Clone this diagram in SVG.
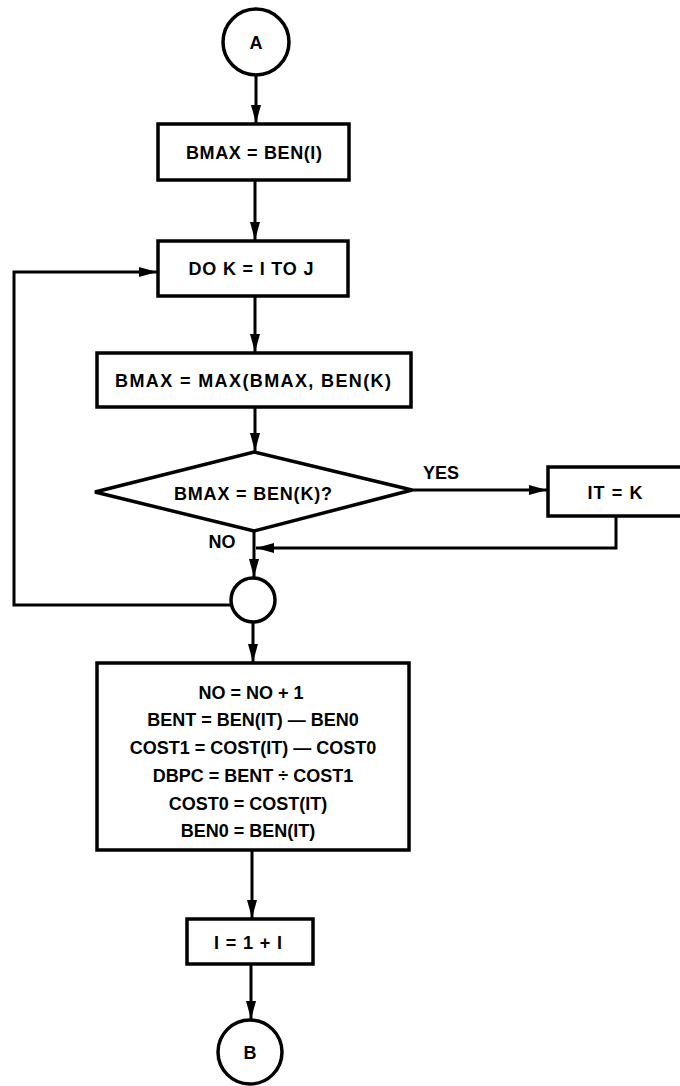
<svg xmlns="http://www.w3.org/2000/svg" width="680" height="1086" viewBox="0 0 680 1086">
<style>
.s{fill:#fff;stroke:#000;stroke-width:3.5}
.c{fill:none;stroke:#000;stroke-width:3}
.t{font-family:"Liberation Sans",Arial,sans-serif;font-weight:bold;font-size:18px;fill:#000;text-anchor:middle}
</style>
<defs>
<marker id="ah" markerUnits="userSpaceOnUse" markerWidth="20" markerHeight="12" refX="18" refY="5" orient="auto">
<path d="M0,0 L18,5 L0,10 z" fill="#000"/>
</marker>
</defs>
<rect width="680" height="1086" fill="#fff"/>
<g id="connectors">
<line class="c" x1="256" y1="75" x2="256" y2="123" marker-end="url(#ah)"/>
<line class="c" x1="255" y1="180" x2="255" y2="240" marker-end="url(#ah)"/>
<line class="c" x1="255" y1="296" x2="255" y2="352" marker-end="url(#ah)"/>
<line class="c" x1="255" y1="407" x2="255" y2="451" marker-end="url(#ah)"/>
<line class="c" x1="412" y1="490" x2="547" y2="490" marker-end="url(#ah)"/>
<polyline class="c" points="616,516 616,548 256,548" marker-end="url(#ah)"/>
<line class="c" x1="254" y1="531" x2="254" y2="577" marker-end="url(#ah)"/>
<polyline class="c" points="231,605 14,605 14,272 157,272" marker-end="url(#ah)"/>
<line class="c" x1="253" y1="622" x2="253" y2="662" marker-end="url(#ah)"/>
<line class="c" x1="252" y1="850" x2="252" y2="918" marker-end="url(#ah)"/>
<line class="c" x1="251" y1="964" x2="251" y2="1019" marker-end="url(#ah)"/>
<text class="t" x="441" y="479">YES</text>
<text class="t" x="222" y="548">NO</text>
</g>
<g id="startA">
<circle class="s" cx="256" cy="42" r="33"/>
<text class="t" x="256" y="48.5">A</text>
</g>
<g id="bmaxInit">
<rect class="s" x="158" y="124" width="191" height="56"/>
<text class="t" x="254" y="158.5" textLength="136" lengthAdjust="spacing">BMAX = BEN(I)</text>
</g>
<g id="doLoop">
<rect class="s" x="158" y="241" width="190" height="55"/>
<text class="t" x="251" y="275" textLength="125" lengthAdjust="spacing">DO K = I TO J</text>
</g>
<g id="bmaxMax">
<rect class="s" x="97" y="353" width="314" height="54"/>
<text class="t" x="253" y="386.5" textLength="276" lengthAdjust="spacing">BMAX = MAX(BMAX, BEN(K)</text>
</g>
<g id="decision">
<polygon class="s" points="254,452 412,490 254,531 95,492"/>
<text class="t" x="253" y="499.5" textLength="158" lengthAdjust="spacing">BMAX = BEN(K)?</text>
</g>
<g id="itk">
<rect class="s" x="548" y="467" width="140" height="49"/>
<text class="t" x="615" y="498.5" textLength="55" lengthAdjust="spacing">IT = K</text>
</g>
<g id="junction">
<circle class="s" cx="253" cy="600" r="22"/>
</g>
<g id="update">
<rect class="s" x="97" y="663" width="312" height="187"/>
<text class="t" x="251" y="698.5">NO = NO + 1</text>
<text class="t" x="253" y="725.5">BENT = BEN(IT) — BEN0</text>
<text class="t" x="253" y="753.5">COST1 = COST(IT) — COST0</text>
<text class="t" x="253" y="781.5">DBPC = BENT ÷ COST1</text>
<text class="t" x="248" y="809.5">COST0 = COST(IT)</text>
<text class="t" x="248" y="836.5">BEN0 = BEN(IT)</text>
</g>
<g id="increment">
<rect class="s" x="187" y="919" width="126" height="45"/>
<text class="t" x="248" y="948.5" textLength="68" lengthAdjust="spacing">I = 1 + I</text>
</g>
<g id="endB">
<circle class="s" cx="250" cy="1052" r="32"/>
<text class="t" x="250" y="1058.5">B</text>
</g>
</svg>
